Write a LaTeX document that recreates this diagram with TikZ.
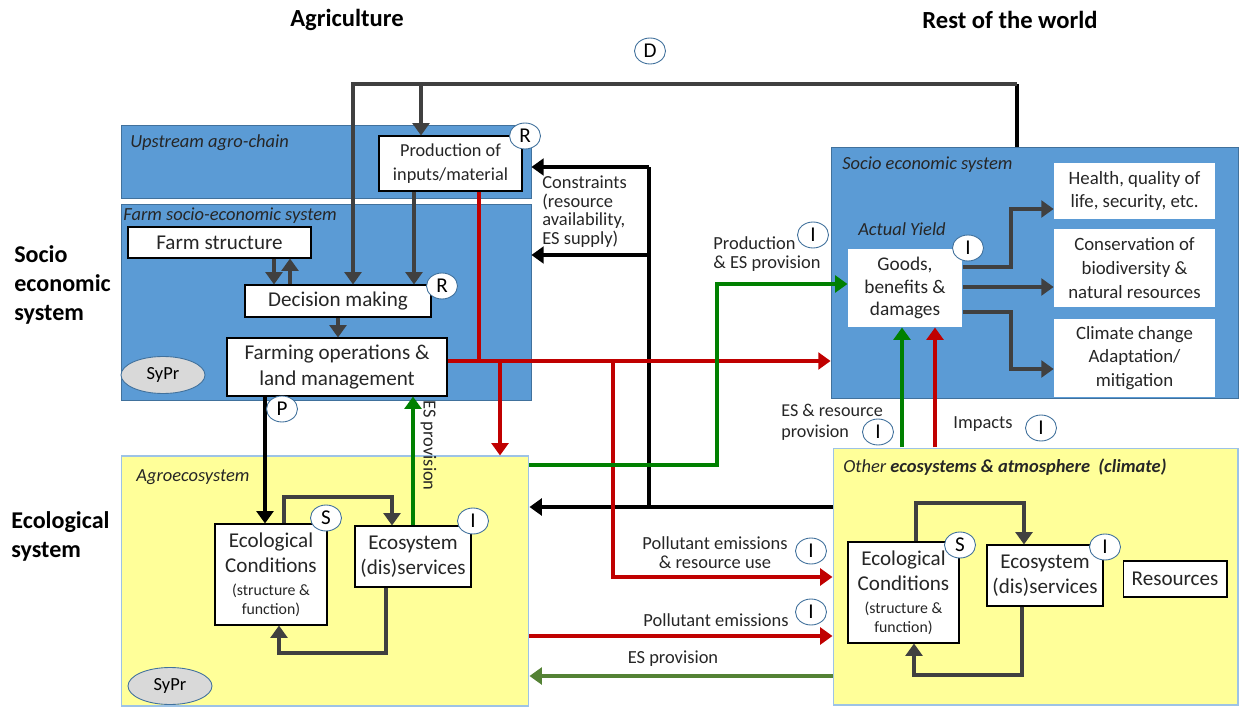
\documentclass[tikz,border=0pt]{standalone}
\usepackage{fontspec}
\setmainfont{Carlito}
\usetikzlibrary{arrows.meta,shapes.geometric}

\definecolor{areablue}{RGB}{91,155,213}
\definecolor{edgeblue}{RGB}{65,113,156}
\definecolor{areayellow}{RGB}{255,255,153}
\definecolor{edgeyellow}{RGB}{157,195,230}
\definecolor{flowred}{RGB}{192,0,0}
\definecolor{flowgreen}{RGB}{0,128,0}
\definecolor{olivegreen}{RGB}{84,130,53}
\definecolor{arrowgray}{RGB}{64,64,64}
\definecolor{textgray}{RGB}{38,38,38}
\definecolor{syprgray}{RGB}{217,217,217}

\newcommand{\subfont}{\fontsize{9}{10.5}\selectfont}

\tikzset{
  bluearea/.style={draw=edgeblue, fill=areablue, line width=0.5pt, inner sep=0pt},
  yellowarea/.style={draw=edgeyellow, fill=areayellow, line width=0.6pt, inner sep=0pt},
  arealabel/.style={anchor=west, inner sep=0pt, text=textgray, font=\fontsize{10.5}{12}\selectfont\itshape},
  whitebox/.style={draw=black, fill=white, line width=0.6pt, inner sep=1pt, align=center,
    text=textgray, font=\fontsize{12}{14.5}\selectfont},
  outbox/.style={fill=white, inner sep=1pt, align=center, minimum width=3.22cm,
    text=textgray, font=\fontsize{10.7}{13.5}\selectfont},
  tag/.style={ellipse, draw=edgeblue, fill=white, line width=0.5pt, inner sep=0pt,
    minimum width=0.62cm, minimum height=0.52cm, font=\fontsize{12}{12}\selectfont},
  sypr/.style={ellipse, draw=edgeblue, fill=syprgray, line width=0.5pt, inner sep=0pt,
    minimum width=1.68cm, minimum height=0.74cm, font=\fontsize{10.5}{10.5}\selectfont},
  flowtext/.style={inner sep=0pt, text=textgray, font=\fontsize{10.5}{10.8}\selectfont},
  tip/.style={-{Triangle[length=7pt,width=9.5pt]}},
  grayflow/.style={tip, draw=arrowgray, line width=2.7pt},
  blackflow/.style={tip, draw=black, line width=2.4pt},
  redflow/.style={tip, draw=flowred, line width=2.6pt},
  greenflow/.style={tip, draw=flowgreen, line width=2.6pt},
  olivflow/.style={tip, draw=olivegreen, line width=2.6pt},
  bigtitle/.style={inner sep=0pt, font=\fontsize{14}{16}\selectfont\bfseries},
  sidetitle/.style={inner sep=0pt, anchor=west, align=left, font=\fontsize{13.7}{16.5}\selectfont\bfseries}
}

\begin{document}
\begin{tikzpicture}[x=0.02cm, y=-0.02cm, line join=miter]
\useasboundingbox (0,0) rectangle (1240,709);

% titles
\node[bigtitle] (agri) at (347,20) {Agriculture};
\node[bigtitle] (rest) at (1010,20) {Rest of the world};
\node[sidetitle] (soctitle) at (14,285) {Socio\\economic\\system};
\node[sidetitle] (ecotitle) at (11,536) {Ecological\\system};

% areas
\node[bluearea, minimum width=8.2cm, minimum height=1.46cm] (upstream) at (326,161.5) {};
\node[bluearea, minimum width=8.2cm, minimum height=3.92cm] (farmsys) at (326,302) {};
\node[bluearea, minimum width=8.14cm, minimum height=5.02cm] (socio) at (1034.5,272.5) {};
\node[yellowarea, minimum width=8.16cm, minimum height=5cm] (agroeco) at (325,581) {};
\node[yellowarea, minimum width=8.1cm, minimum height=5.14cm] (othereco) at (1035.5,576.5) {};

\node[arealabel] (uplab) at (130,143) {Upstream agro-chain};
\node[arealabel] (farmlab) at (123,216) {Farm socio-economic system};
\node[arealabel] (sociolab) at (842,165) {Socio economic system};
\node[arealabel] (agrolab) at (136,477) {Agroecosystem};
\node[arealabel] (otherlab) at (843,467) {Other \textbf{ecosystems \& atmosphere\ \ (climate)}};
\node[arealabel, anchor=center] (yieldlab) at (902,229) {Actual Yield};

% boxes
\node[whitebox, minimum width=2.86cm, minimum height=1.1cm, font=\fontsize{10.4}{13.5}\selectfont]
  (prod) at (450.5,163.5) {Production of\\inputs/material};
\node[whitebox, minimum width=3.66cm, minimum height=0.62cm] (farmstr) at (219.5,242.5) {Farm structure};
\node[whitebox, minimum width=3.72cm, minimum height=0.64cm] (decis) at (338,301) {Decision making};
\node[whitebox, minimum width=4.4cm, minimum height=1.16cm] (farmop) at (337,367)
  {Farming operations \&\\land management};
\node[whitebox, minimum width=2.24cm, minimum height=2.02cm] (ecolA) at (271,574.5)
  {Ecological\\Conditions\\[-1.5pt]{\subfont (structure \&}\\[-4pt]{\subfont function)}};
\node[whitebox, minimum width=2.32cm, minimum height=1.22cm] (servA) at (413,556.5) {Ecosystem\\(dis)services};
\node[whitebox, draw=none, minimum width=2.28cm, minimum height=1.56cm, font=\fontsize{11}{12.8}\selectfont]
  (goods) at (905,288) {Goods,\\benefits \&\\damages};
\node[outbox, minimum height=1.12cm] (health) at (1134.5,191) {Health, quality of\\life, security, etc.};
\node[outbox, minimum height=1.56cm] (conserv) at (1134.5,268) {Conservation of\\biodiversity \&\\natural resources};
\node[outbox, minimum height=1.56cm] (climate) at (1134.5,358) {Climate change\\Adaptation/\\mitigation};
\node[whitebox, minimum width=2.22cm, minimum height=2.02cm] (ecolO) at (903.5,592.5)
  {Ecological\\Conditions\\[-1.5pt]{\subfont (structure \&}\\[-4pt]{\subfont function)}};
\node[whitebox, minimum width=2.32cm, minimum height=1.22cm] (servO) at (1045,575.5) {Ecosystem\\(dis)services};
\node[whitebox, minimum width=2.08cm, minimum height=0.72cm] (resO) at (1175,579) {Resources};
\node[sypr] (syprtop) at (163,375) {SyPr};
\node[sypr] (syprbot) at (170,686) {SyPr};

% drivers loop
\coordinate (dright) at (1017,84);
\coordinate (dleft) at (353,84);
\coordinate (dprod) at (421,84);
\draw[line width=2.6pt] (dright |- socio.north) -- (dright);
\draw[grayflow] (dright) -- (dleft) -- (dleft |- decis.north);
\draw[grayflow] (dprod) -- (dprod |- prod.north);

% farm
\draw[grayflow] (414,0 |- prod.south) -- (414,0 |- decis.north);
\draw[grayflow] (274,0 |- farmstr.south) -- (274,0 |- decis.north);
\draw[grayflow] (290,0 |- decis.north) -- (290,0 |- farmstr.south);
\draw[grayflow] (decis.south) -- (decis.south |- farmop.north);
\draw[blackflow] (265,0 |- farmop.south) -- (265,0 |- ecolA.north);
\draw[greenflow] (413,0 |- servA.north) -- (413,0 |- farmop.south)
  node[flowtext, rotate=-90, pos=0.62, anchor=south, yshift=3pt] (esprov) {ES provision};

% agroecosystem loop
\draw[grayflow] (284,0 |- ecolA.north) |- (392,497) -- (392,0 |- servA.north);
\draw[grayflow] (386,0 |- servA.south) |- (279,653) -- (279,0 |- ecolA.south);

% constraints
\draw[blackflow] (othereco.west |- 0,507) -- (agroeco.east |- 0,507);
\draw[line width=2.4pt] (649,507) -- (649,167);
\draw[blackflow] (649,167) -- (upstream.east |- 0,167);
\draw[blackflow] (649,255) -- (farmsys.east |- 0,255);
\node[flowtext, anchor=north west, align=left] (constr) at (542,175)
  {Constraints\\(resource\\availability,\\ES supply)};

% pollution and impacts
\draw[line width=2.6pt, flowred] (479,0 |- prod.south) -- (479,361);
\draw[redflow] (farmop.east |- 0,361) -- (socio.west |- 0,361);
\draw[redflow] (500,361) -- (500,0 |- agroeco.north);
\draw[redflow] (613,361) |- (othereco.west |- 0,577);
\draw[redflow] (agroeco.east |- 0,636) -- (othereco.west |- 0,636);
\draw[redflow] (935,0 |- othereco.north) -- (935,0 |- goods.south);
\node[flowtext, align=center] (pollres) at (715,553) {Pollutant emissions\\\& resource use};
\node[flowtext] (poll) at (716,620) {Pollutant emissions};
\node[flowtext] (impacts) at (983,424) {Impacts};

% ecosystem services
\draw[greenflow] (agroeco.east |- 0,465) -| (717,284) -- (goods.west |- 0,284);
\draw[greenflow] (902,0 |- othereco.north) -- (902,0 |- goods.south);
\draw[olivflow] (othereco.west |- 0,676) -- (agroeco.east |- 0,676);
\node[flowtext, anchor=west, align=left] (prodes) at (713,254) {Production\\\& ES provision};
\node[flowtext, anchor=west, align=left, font=\fontsize{10.3}{12}\selectfont] (esres) at (781,422)
  {ES \& resource\\provision};
\node[flowtext] (esbot) at (673,659) {ES provision};

% outcomes
\draw[grayflow] (goods.east |- 0,267) -| (1011,209) -- (health.west |- 0,209);
\draw[grayflow] (goods.east |- 0,287) -- (conserv.west |- 0,287);
\draw[grayflow] (goods.east |- 0,312) -| (1011,369) -- (climate.west |- 0,369);

% other ecosystems loop
\draw[grayflow] (916,0 |- ecolO.north) |- (1024,503) -- (1024,0 |- servO.north);
\draw[grayflow] (1022,0 |- servO.south) |- (914,675) -- (914,0 |- ecolO.south);

% tags
\node[tag] (tagD) at (650,51) {D};
\node[tag] (tagRprod) at (525,136) {R};
\node[tag] (tagRdec) at (442,286) {R};
\node[tag] (tagP) at (282,409) {P};
\node[tag] (tagSA) at (326,518) {S};
\node[tag] (tagIA) at (473,521) {I};
\node[tag] (tagSO) at (960,545) {S};
\node[tag] (tagIO) at (1105,547) {I};
\node[tag] (tagIgoods) at (968,248) {I};
\node[tag] (tagIprod) at (813,235) {I};
\node[tag] (tagIes) at (878,432) {I};
\node[tag] (tagIimp) at (1041,428) {I};
\node[tag] (tagIpr) at (811,551) {I};
\node[tag] (tagIpoll) at (811,612) {I};
\end{tikzpicture}
\end{document}
